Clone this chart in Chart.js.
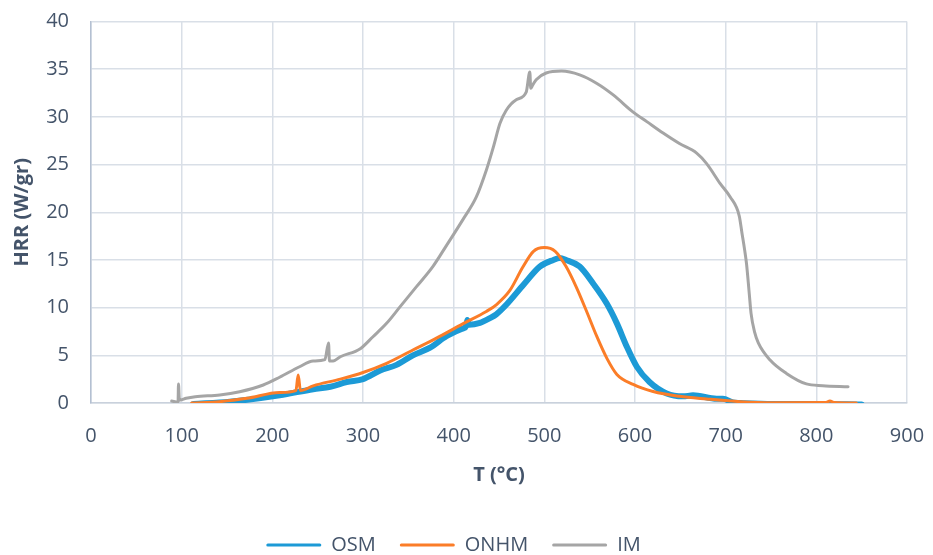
<!DOCTYPE html>
<html>
<head>
<meta charset="utf-8">
<title>HRR vs T</title>
<script src="https://cdn.jsdelivr.net/npm/chart.js@4.4.1/dist/chart.umd.min.js"></script>
<style>
  html, body { margin: 0; padding: 0; background: #ffffff; }
  #wrap { width: 933px; height: 555px; position: relative; }
</style>
</head>
<body>
<div id="wrap"><canvas id="hrr"></canvas></div>
<script>
// Heat release rate (W/gr) against temperature (°C)
const seriesNames = ['OSM', 'ONHM', 'IM'];

const osmT = [113, 153, 208, 245, 264, 282, 300, 319, 337, 355, 374, 392, 410, 414, 415, 417, 429, 440, 447, 458, 477, 495, 510, 517, 524, 539, 554, 569, 580, 591, 602, 616, 635, 653, 664, 690, 697, 708, 716, 752, 800, 850];
const osmHRR = [-0.1, 0.14, 0.8, 1.45, 1.7, 2.2, 2.5, 3.4, 4.0, 5.0, 5.8, 7.0, 7.8, 8.1, 8.7, 8.2, 8.4, 8.9, 9.3, 10.3, 12.4, 14.3, 15.0, 15.2, 15.0, 14.3, 12.5, 10.4, 8.35, 5.9, 3.8, 2.2, 1.0, 0.7, 0.8, 0.45, 0.45, 0.05, 0.0, -0.1, -0.1, -0.15];

const onhmT = [111, 142, 172, 208, 226, 228.5, 231, 245, 275, 300, 326, 355, 381, 410, 436, 447, 462, 476, 488, 500, 512, 524, 535, 546, 558, 569, 580, 598, 620, 649, 679, 716, 752, 810, 815, 820, 844];
const onhmHRR = [0.0, 0.14, 0.49, 1.1, 1.3, 2.93, 1.3, 1.8, 2.5, 3.2, 4.16, 5.56, 6.8, 8.3, 9.6, 10.3, 11.8, 14.2, 15.9, 16.3, 15.9, 14.3, 12.2, 9.75, 6.95, 4.68, 3.0, 1.95, 1.2, 0.7, 0.42, 0.14, 0.03, 0.05, 0.2, 0.05, 0.0];

const imT = [89, 96, 96.5, 97.5, 105, 115, 142, 164, 190, 208, 230, 245, 258, 262, 263, 267, 275, 297, 311, 326, 341, 359, 377, 392, 410, 425, 436, 444, 451, 458, 469, 480, 484, 485, 487, 491, 502, 519, 539, 558, 576, 598, 613, 631, 649, 668, 679, 694, 705, 715, 718, 721, 723, 726, 728, 732, 736, 749, 767, 789, 807, 835];
const imHRR = [0.2, 0.1, 2.0, 0.3, 0.5, 0.66, 0.84, 1.18, 1.89, 2.7, 3.8, 4.4, 4.55, 6.3, 4.4, 4.4, 4.85, 5.7, 6.95, 8.35, 10.1, 12.2, 14.3, 16.5, 19.2, 21.6, 24.4, 26.9, 29.3, 30.7, 31.8, 32.6, 34.7, 33.0, 33.3, 33.9, 34.6, 34.8, 34.4, 33.5, 32.3, 30.5, 29.5, 28.3, 27.2, 26.2, 25.1, 23.0, 21.6, 19.6, 17.8, 16.0, 14.6, 11.5, 9.4, 7.4, 6.3, 4.5, 3.1, 2.0, 1.82, 1.7];

const xTicks = [0, 100, 200, 300, 400, 500, 600, 700, 800, 900];
const yTicks = [0, 5, 10, 15, 20, 25, 30, 35, 40];

const textColor = '#44546A';
const gridColor = '#D9DFE7';
const fontFamily = '"Open Sans", sans-serif';

function points(xs, ys) {
  return xs.map((x, i) => ({ x: x, y: ys[i] }));
}

const datasets = [
  { label: seriesNames[0], data: points(osmT, osmHRR), borderColor: '#1C9AD6', backgroundColor: '#1C9AD6', borderWidth: 6, order: 1 },
  { label: seriesNames[1], data: points(onhmT, onhmHRR), borderColor: '#FB7D28', backgroundColor: '#FB7D28', borderWidth: 3, order: 0 },
  { label: seriesNames[2], data: points(imT, imHRR), borderColor: '#A5A5A5', backgroundColor: '#A5A5A5', borderWidth: 3, order: 2 }
];
datasets.forEach(d => {
  d.pointRadius = 0;
  d.pointHoverRadius = 0;
  d.fill = false;
  d.cubicInterpolationMode = 'monotone';
  d.borderJoinStyle = 'round';
  d.borderCapStyle = 'round';
});

new Chart(document.getElementById('hrr'), {
  type: 'line',
  data: { datasets: datasets },
  options: {
    responsive: true,
    maintainAspectRatio: false,
    animation: false,
    events: [],
    layout: { padding: { top: 21.5, right: 26, bottom: -10, left: 0 } },
    scales: {
      x: {
        type: 'linear',
        min: xTicks[0],
        max: xTicks[xTicks.length - 1],
        afterBuildTicks: s => { s.ticks = xTicks.map(v => ({ value: v })); },
        afterFit: s => { s.height = 108; s.paddingLeft = 0; s.paddingRight = 0; },
        ticks: { color: textColor, font: { family: fontFamily, size: 20 }, padding: 21, maxRotation: 0 },
        grid: { color: gridColor, lineWidth: 1.5, drawTicks: false },
        border: { color: '#C9D1DC', width: 1.5 },
        title: { display: true, text: 'T (°C)', color: textColor, font: { family: fontFamily, size: 20, weight: 'bold' }, padding: { top: 0, bottom: 24 } }
      },
      y: {
        type: 'linear',
        min: yTicks[0],
        max: yTicks[yTicks.length - 1],
        afterBuildTicks: s => { s.ticks = yTicks.map(v => ({ value: v })); },
        afterFit: s => { s.width = 91; s.paddingTop = 0; s.paddingBottom = 0; },
        ticks: { color: textColor, font: { family: fontFamily, size: 20 }, padding: 22 },
        grid: { color: gridColor, lineWidth: 1.5, drawTicks: false },
        border: { color: '#B4C0D2', width: 1.5 },
        title: { display: true, text: 'HRR (W/gr)', color: textColor, font: { family: fontFamily, size: 20, weight: 'bold' }, padding: { top: 10, bottom: 0 } }
      }
    },
    plugins: {
      tooltip: { enabled: false },
      legend: {
        position: 'bottom',
        labels: {
          color: textColor,
          font: { family: fontFamily, size: 20 },
          boxWidth: 55,
          boxHeight: 3,
          padding: 24,
          useBorderRadius: true,
          borderRadius: 1.5,
          sort: (a, b) => a.datasetIndex - b.datasetIndex,
          generateLabels: chart => {
            const items = Chart.defaults.plugins.legend.labels.generateLabels(chart);
            items.forEach(it => { it.fillStyle = it.strokeStyle; it.lineWidth = 0; it.borderRadius = 1.5; });
            return items;
          }
        }
      }
    }
  }
});
</script>
</body>
</html>
